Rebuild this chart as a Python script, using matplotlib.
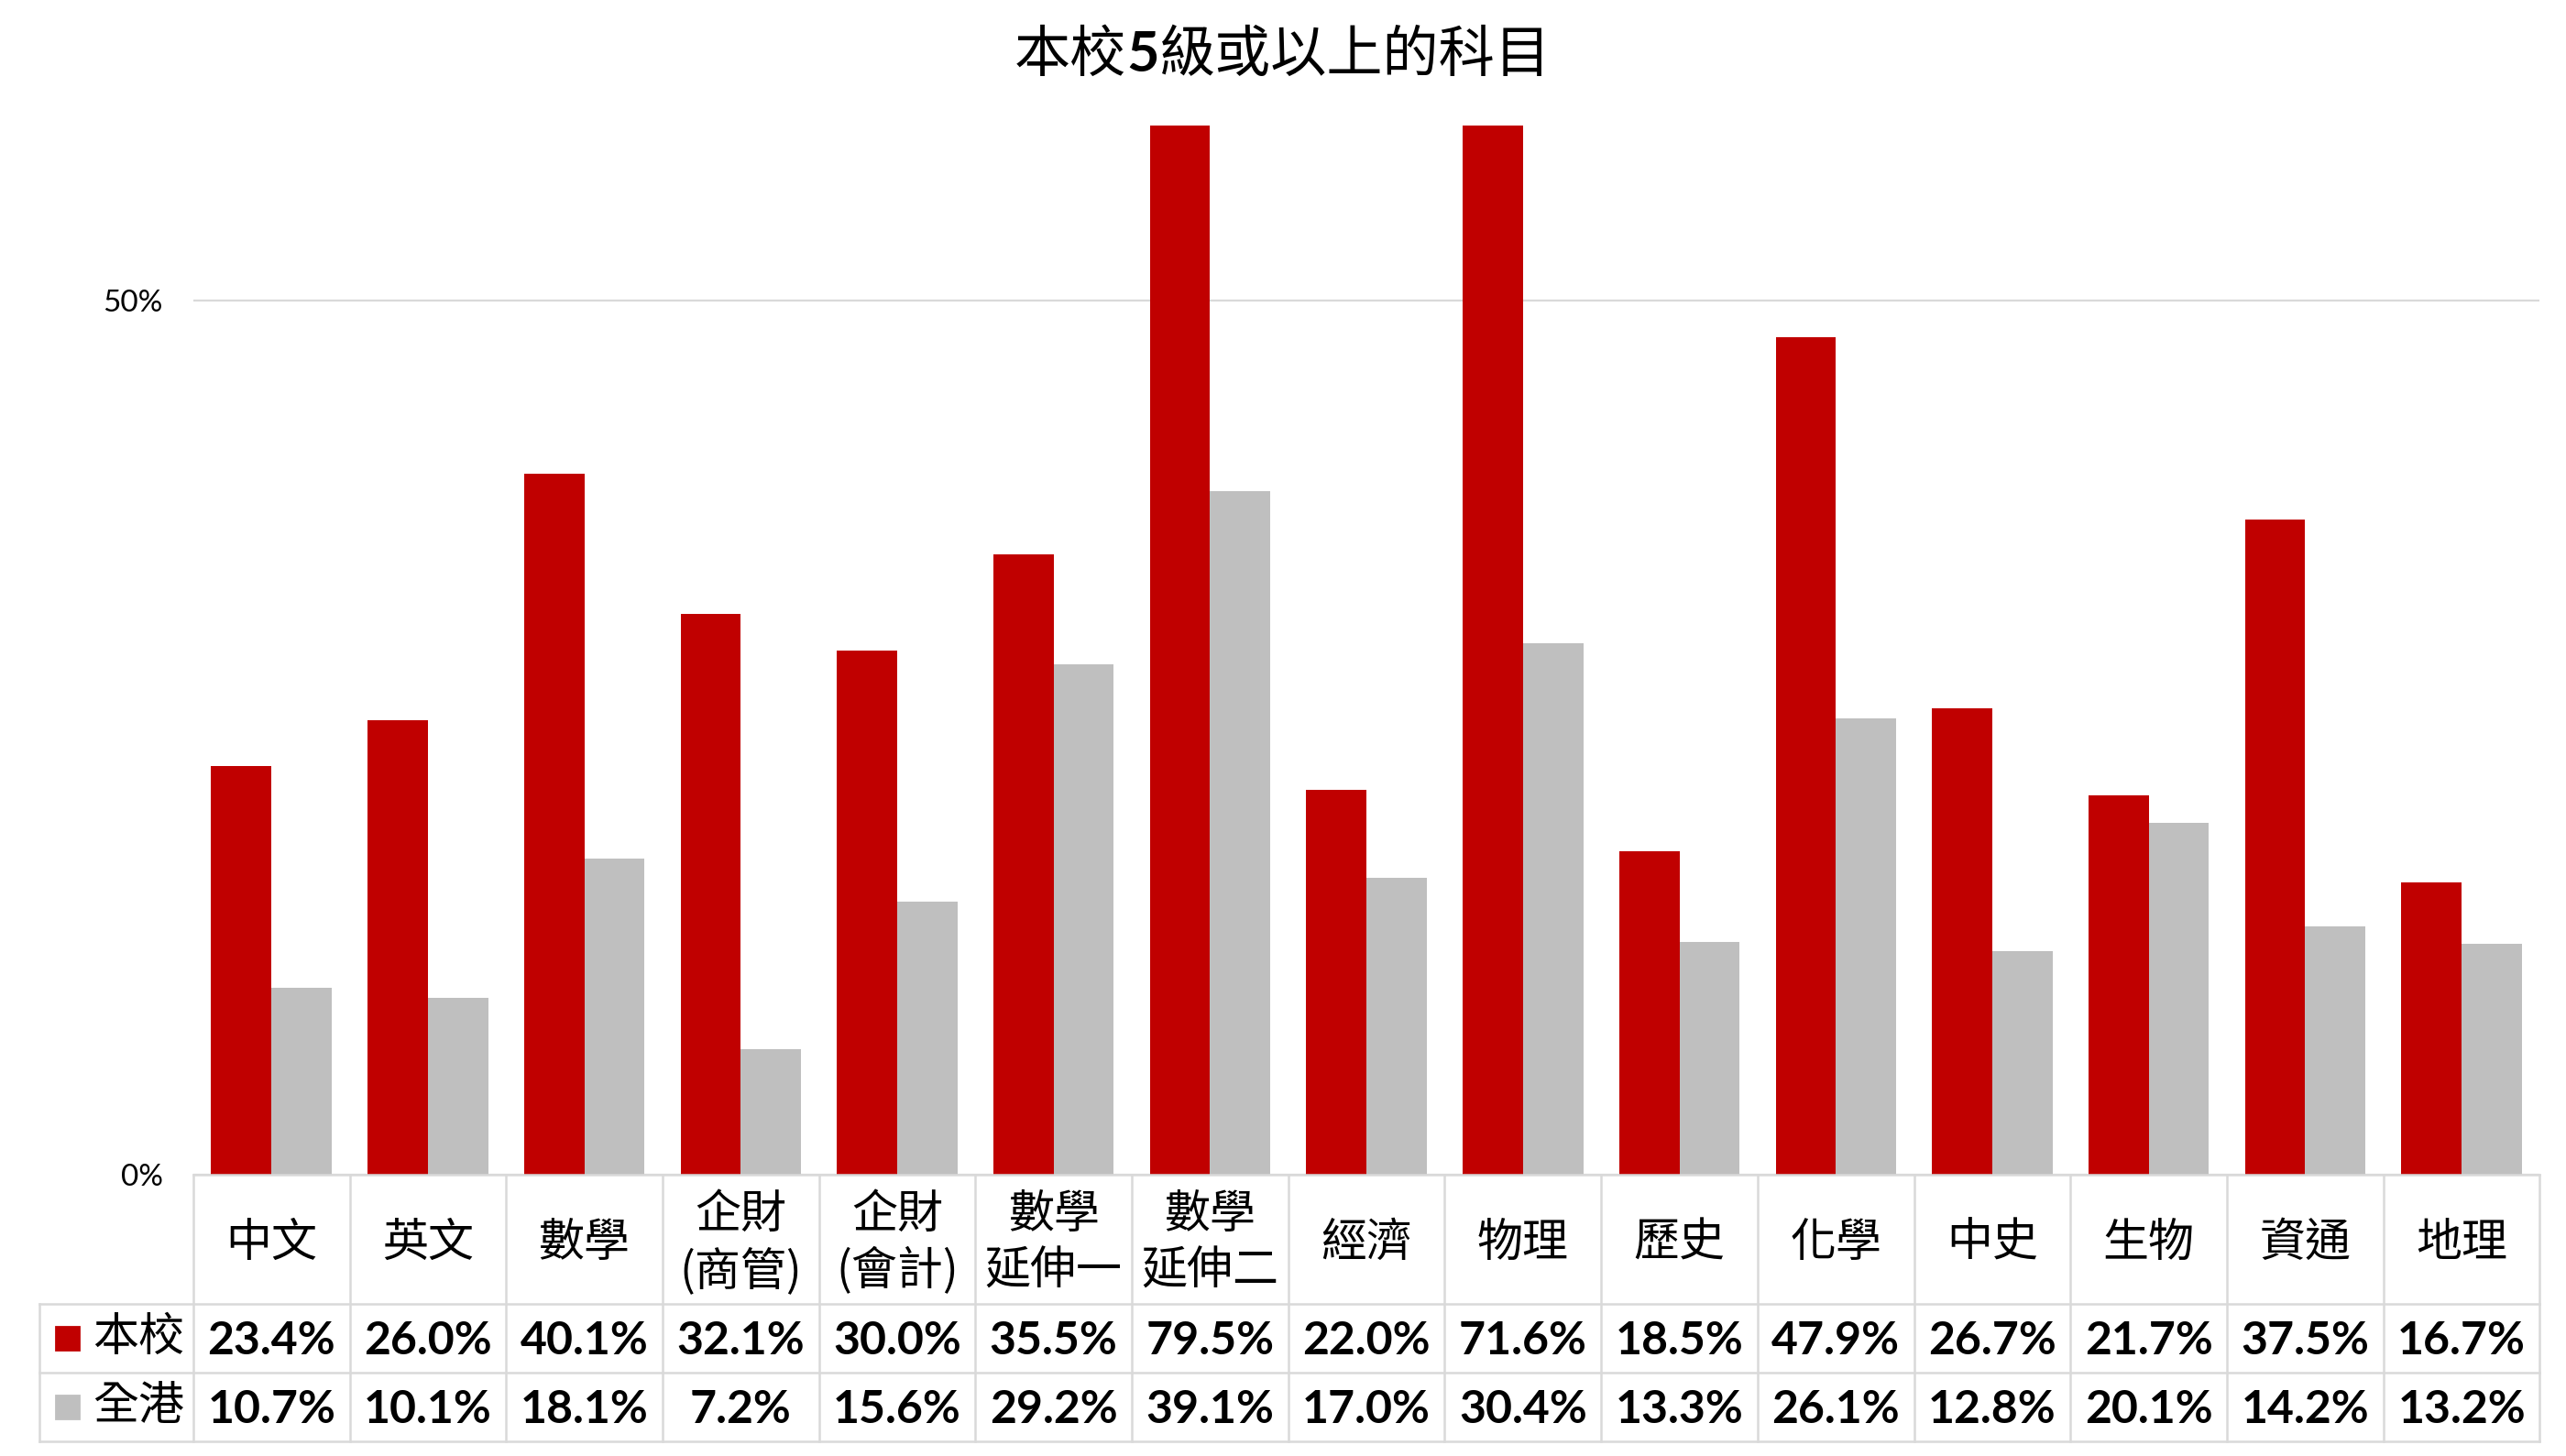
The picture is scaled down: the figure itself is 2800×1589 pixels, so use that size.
import matplotlib
matplotlib.use("Agg")
import matplotlib.pyplot as plt
import matplotlib.transforms as mtransforms
from matplotlib.offsetbox import TextArea, HPacker, AnchoredOffsetbox
from matplotlib.ticker import PercentFormatter

# 科目 + 兩組百分比 (5級或以上)
subjects = ["中文", "英文", "數學", "企財\n(商管)", "企財\n(會計)", "數學\n延伸一", "數學\n延伸二",
            "經濟", "物理", "歷史", "化學", "中史", "生物", "資通", "地理"]
school = [23.4, 26.0, 40.1, 32.1, 30.0, 35.5, 79.5, 22.0, 71.6, 18.5, 47.9, 26.7, 21.7, 37.5, 16.7]
hk = [10.7, 10.1, 18.1, 7.2, 15.6, 29.2, 39.1, 17.0, 30.4, 13.3, 26.1, 12.8, 20.1, 14.2, 13.2]
series_names = ["本校", "全港"]
colors = ["#C00000", "#BFBFBF"]

cjk = ["Noto Sans CJK TC", "DejaVu Sans"]
num = ["Lato", "DejaVu Sans"]
line_c = "#D9D9D9"

fig = plt.figure(figsize=(14, 7.945), dpi=200)
ax = fig.add_axes([0.0753, 0.1933, 0.9145, 0.7202])

w = 0.385
xs = list(range(len(subjects)))
ax.bar([i - w / 2 for i in xs], school, w, color=colors[0])
ax.bar([i + w / 2 for i in xs], hk, w, color=colors[1])

ax.set_xlim(-0.5, len(subjects) - 0.5)
ax.set_ylim(0, 60)
ax.set_yticks([0, 50])
ax.yaxis.set_major_formatter(PercentFormatter(decimals=0))
ax.set_xticks([])
ax.tick_params(axis="y", length=0, pad=12, labelsize=12)
for lab in ax.get_yticklabels():
    lab.set_family(num)
ax.yaxis.grid(True, color=line_c, lw=0.8)
ax.set_axisbelow(True)
for s in ax.spines.values():
    s.set_visible(False)

# 數據表 (x 用數據座標, y 用軸比例)
trans = mtransforms.blended_transform_factory(ax.transData, ax.transAxes)
left = -0.5
right = len(subjects) - 0.5
leg_left = -1.483
y_head = -0.1232
y_r1 = -0.1888
y_r2 = -0.2543
kw = dict(transform=trans, clip_on=False, color=line_c, lw=0.9)

ax.plot([left, right], [0, 0], **kw)
for yy in [y_head, y_r1, y_r2]:
    ax.plot([leg_left, right], [yy, yy], **kw)
for i in range(len(subjects) + 1):
    ax.plot([left + i, left + i], [0, y_r2], **kw)
ax.plot([leg_left, leg_left], [y_head, y_r2], **kw)

for i, name in enumerate(subjects):
    ax.text(i, y_head / 2 - 0.004, name, transform=trans, ha="center", va="center",
            fontsize=18, family=cjk, linespacing=1.25)

rows = [school, hk]
row_mid = [(y_head + y_r1) / 2, (y_r1 + y_r2) / 2]
for vals, name, c, ym in zip(rows, series_names, colors, row_mid):
    ax.plot([-1.305], [ym], marker="s", ms=9, color=c, transform=trans, clip_on=False)
    ax.text(-1.14, ym, name, transform=trans, ha="left", va="center",
            fontsize=18, family=cjk)
    for i, v in enumerate(vals):
        ax.text(i, ym - 0.003, f"{v:.1f}%", transform=trans, ha="center", va="center",
                fontsize=18, family=num, fontweight="bold")

# 標題 ("5" 用粗體)
t_kw = dict(fontsize=22, family=cjk)
parts = [TextArea("本校", textprops=t_kw),
         TextArea("5", textprops=dict(fontsize=22, family=num, fontweight="bold")),
         TextArea("級或以上的科目", textprops=t_kw)]
box = HPacker(children=parts, align="baseline", pad=0, sep=0)
fig.add_artist(AnchoredOffsetbox(loc="center", child=box, frameon=False, pad=0,
                                 bbox_to_anchor=(0.5, 0.962),
                                 bbox_transform=fig.transFigure, borderpad=0))

fig.savefig("out.png", dpi=200)
